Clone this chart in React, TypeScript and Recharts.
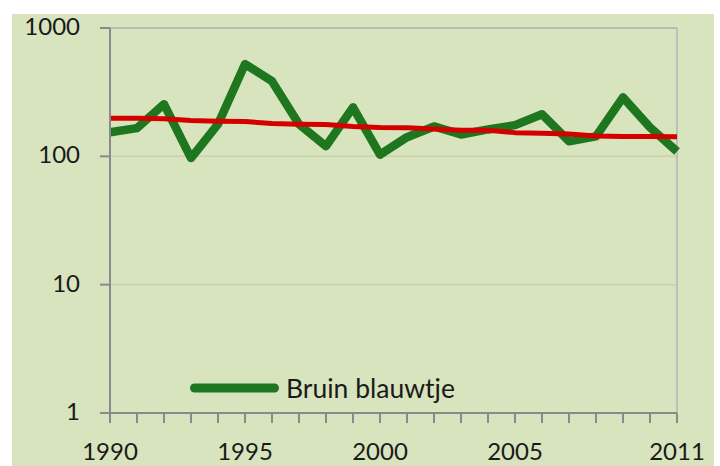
import { LineChart, Line, XAxis, YAxis, CartesianGrid, ReferenceLine, Legend } from 'recharts'

const years = [1990, 1991, 1992, 1993, 1994, 1995, 1996, 1997, 1998, 1999, 2000, 2001, 2002, 2003, 2004, 2005, 2006, 2007, 2008, 2009, 2010, 2011]
const bruinBlauwtje = [154, 166, 255, 97, 178, 523, 385, 178, 120, 241, 103, 141, 171, 148, 162, 175, 213, 131, 143, 288, 168, 109]
const trend = [198, 198, 196, 190, 188, 187, 180, 178, 177, 171, 168, 167, 163, 160, 160, 153, 151, 149, 144, 143, 143, 142]
const yTicks = [1, 10, 100, 1000]
const xLabelYears = [1990, 1995, 2000, 2005, 2011]

const data = years.map((year, i) => ({ year, index: bruinBlauwtje[i], trend: trend[i] }))

const GREEN = '#1e761e'
const RED = '#d40000'
const BG = '#d7e4bd'
const AXIS = '#8a8a8a'
const tickStyle = { fontFamily: '"Lato", sans-serif' }

function XTick({ x, y, payload }: any) {
  if (!xLabelYears.includes(payload.value)) return null
  return (
    <text x={x} y={y} dy={17} textAnchor="middle" fill="#1a1a1a" fontSize={24} style={tickStyle}>
      {payload.value}
    </text>
  )
}

function YTick({ x, y, payload }: any) {
  return (
    <text x={x} y={y} dy={7} textAnchor="end" fill="#1a1a1a" fontSize={24} style={tickStyle}>
      {payload.value}
    </text>
  )
}

function LegendBox() {
  return (
    <svg width={320} height={40} style={{ display: 'block' }}>
      <line x1={8.5} y1={16} x2={88.5} y2={16} stroke={GREEN} strokeWidth={9} strokeLinecap="round" />
      <text x={100} y={26} fontSize={26.5} fill="#1a1a1a" style={{ fontFamily: '"Lato", sans-serif' }}>
        Bruin blauwtje
      </text>
    </svg>
  )
}

export default function App() {
  return (
    <div style={{ position: 'absolute', left: 0, top: 0, width: 720, height: 466, background: '#fff', overflow: 'hidden' }}>
      <div style={{ position: 'absolute', left: 12, top: 14, width: 702, height: 452, background: BG }} />
      <div style={{ position: 'absolute', left: 0, top: 0 }}>
        <LineChart width={720} height={466} data={data} margin={{ top: 28, right: 43, left: 12, bottom: 0 }}>
          <CartesianGrid horizontal vertical={false} stroke="#c6d2ab" strokeWidth={1.5} />
          <XAxis
            dataKey="year"
            type="number"
            domain={[1990, 2011]}
            ticks={years}
            interval={0}
            tick={<XTick />}
            tickSize={10}
            tickMargin={20}
            height={53}
            axisLine={{ stroke: AXIS, strokeWidth: 2 }}
            tickLine={{ stroke: AXIS, strokeWidth: 2 }}
          />
          <YAxis
            scale="log"
            domain={[1, 1000]}
            ticks={yTicks}
            allowDataOverflow
            width={98}
            tick={<YTick />}
            tickSize={10}
            tickMargin={20}
            axisLine={{ stroke: AXIS, strokeWidth: 2 }}
            tickLine={{ stroke: AXIS, strokeWidth: 2 }}
          />
          <ReferenceLine y={1000} stroke="#b4b4b4" strokeWidth={1.5} />
          <ReferenceLine x={2011} stroke="#b4b4b4" strokeWidth={1.5} />
          <Legend
            layout="vertical"
            align="center"
            verticalAlign="middle"
            content={<LegendBox />}
            wrapperStyle={{ left: 186, top: 372, width: 320 }}
          />
          <Line dataKey="index" stroke={GREEN} strokeWidth={8.5} dot={false} strokeLinejoin="round" isAnimationActive={false} legendType="none" />
          <Line dataKey="trend" stroke={RED} strokeWidth={5} dot={false} strokeLinejoin="round" isAnimationActive={false} legendType="none" />
        </LineChart>
      </div>
    </div>
  )
}
